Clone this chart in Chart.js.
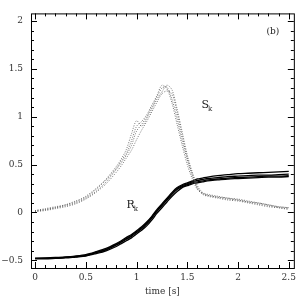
<!DOCTYPE html>
<html>
<head>
<meta charset="utf-8">
<script src="https://cdn.jsdelivr.net/npm/chart.js@4.4.0/dist/chart.umd.min.js"></script>
<style>
    html, body { margin: 0; padding: 0; background: #fff; }
    #wrap { width: 300px; height: 300px; }
</style>
</head>
<body>
<div id="wrap"><canvas id="chart" width="300" height="300"></canvas></div>
<script>
// time samples [s]
const time = [0, 0.1, 0.2, 0.3, 0.4, 0.5, 0.6, 0.7, 0.8, 0.85, 0.9, 0.95, 1.0, 1.05, 1.1, 1.15, 1.2, 1.25, 1.3, 1.35,
    1.4, 1.45, 1.5, 1.55, 1.6, 1.65, 1.7, 1.8, 1.9, 2.0, 2.1, 2.2, 2.3, 2.4, 2.5];

// S_k members (dotted)
const s1 = [0.01, 0.03, 0.05, 0.07, 0.10, 0.15, 0.22, 0.32, 0.45, 0.52, 0.60, 0.70, 0.85, 0.92, 1.00, 1.10, 1.20, 1.30, 1.31, 1.18,
    0.98, 0.75, 0.55, 0.38, 0.26, 0.20, 0.18, 0.16, 0.14, 0.13, 0.11, 0.09, 0.07, 0.05, 0.04];
const s2 = [0.02, 0.04, 0.06, 0.08, 0.11, 0.17, 0.25, 0.35, 0.48, 0.56, 0.66, 0.82, 0.96, 0.90, 0.98, 1.08, 1.18, 1.26, 1.33, 1.28,
    1.08, 0.84, 0.60, 0.42, 0.28, 0.21, 0.19, 0.17, 0.15, 0.14, 0.12, 0.10, 0.08, 0.06, 0.05];
const s3 = [0.01, 0.02, 0.04, 0.06, 0.09, 0.14, 0.21, 0.30, 0.42, 0.49, 0.57, 0.65, 0.76, 0.86, 0.95, 1.05, 1.15, 1.24, 1.27, 1.24,
    1.04, 0.80, 0.57, 0.40, 0.25, 0.19, 0.17, 0.15, 0.13, 0.12, 0.10, 0.08, 0.06, 0.05, 0.03];
const s4 = [0.02, 0.03, 0.05, 0.08, 0.12, 0.16, 0.24, 0.34, 0.46, 0.54, 0.62, 0.75, 0.90, 0.95, 1.02, 1.12, 1.22, 1.33, 1.29, 1.14,
    0.92, 0.70, 0.50, 0.35, 0.24, 0.20, 0.18, 0.16, 0.15, 0.13, 0.11, 0.10, 0.08, 0.06, 0.05];

// R_k members (solid)
const r1 = [-0.48, -0.48, -0.475, -0.47, -0.46, -0.45, -0.42, -0.39, -0.34, -0.31, -0.28, -0.25, -0.21, -0.17, -0.12, -0.06, 0.01, 0.07,
    0.13, 0.19, 0.24, 0.27, 0.29, 0.31, 0.32, 0.33, 0.34, 0.35, 0.36, 0.365, 0.37, 0.375, 0.38, 0.38, 0.385];
const r2 = [-0.48, -0.475, -0.47, -0.465, -0.455, -0.44, -0.41, -0.375, -0.325, -0.295, -0.26, -0.23, -0.19, -0.15, -0.10, -0.04, 0.03, 0.09,
    0.15, 0.21, 0.26, 0.29, 0.31, 0.33, 0.35, 0.36, 0.37, 0.385, 0.395, 0.405, 0.41, 0.415, 0.42, 0.425, 0.43];
const r3 = [-0.485, -0.485, -0.48, -0.475, -0.465, -0.455, -0.43, -0.40, -0.355, -0.325, -0.295, -0.265, -0.225, -0.185, -0.14, -0.08, -0.01, 0.05,
    0.11, 0.17, 0.22, 0.26, 0.28, 0.30, 0.31, 0.32, 0.33, 0.34, 0.35, 0.355, 0.36, 0.365, 0.37, 0.37, 0.375];
const r4 = [-0.48, -0.48, -0.475, -0.47, -0.46, -0.447, -0.418, -0.385, -0.335, -0.303, -0.272, -0.24, -0.2, -0.16, -0.11, -0.05, 0.02, 0.08,
    0.14, 0.20, 0.25, 0.28, 0.30, 0.32, 0.335, 0.345, 0.355, 0.365, 0.375, 0.38, 0.385, 0.39, 0.39, 0.395, 0.40];

// axes
const xRange = [-0.04, 2.55];
const yRange = [-0.58, 2.08];
const xTickLabels = [0, 0.5, 1, 1.5, 2, 2.5];
const yTickLabels = [-0.5, 0, 0.5, 1, 1.5, 2];
const minorStep = 0.1;
const xTitle = 'time [s]';
const panelTag = '(b)';

const font = { family: '"DejaVu Serif", "Liberation Serif", serif', size: 9 };

function pts(ys) {
    return ys.map((y, i) => ({ x: time[i], y: y }));
}

// minor tick values every 0.1 inside the range
function minorTicks(range) {
    const out = [];
    for (let k = Math.ceil(range[0] / minorStep - 1e-9); k * minorStep <= range[1] + 1e-9; k++) {
        out.push({ value: Math.round(k * minorStep * 10) / 10 });
    }
    return out;
}

function labelFor(list, v) {
    const hit = list.find(t => Math.abs(t - v) < 1e-6);
    if (hit === undefined) return '';
    return String(hit).replace('-', '\u2212');
}

// box, inward ticks and text labels
const framePlugin = {
    id: 'frame',
    afterDraw(chart) {
        const ctx = chart.ctx;
        const a = chart.chartArea;
        const xs = chart.scales.x;
        const ys = chart.scales.y;
        ctx.save();
        ctx.strokeStyle = '#000';
        ctx.lineWidth = 1;
        ctx.strokeRect(a.left + 0.5, a.top + 0.5, a.right - a.left, a.bottom - a.top);

        ctx.beginPath();
        xs.ticks.forEach(t => {
            const px = Math.round(xs.getPixelForValue(t.value)) + 0.5;
            const len = labelFor(xTickLabels, t.value) ? 6 : 3;
            ctx.moveTo(px, a.bottom);
            ctx.lineTo(px, a.bottom - len);
            ctx.moveTo(px, a.top);
            ctx.lineTo(px, a.top + len);
        });
        ys.ticks.forEach(t => {
            const py = Math.round(ys.getPixelForValue(t.value)) + 0.5;
            const len = labelFor(yTickLabels, t.value) ? 6 : 3;
            ctx.moveTo(a.left, py);
            ctx.lineTo(a.left + len, py);
            ctx.moveTo(a.right, py);
            ctx.lineTo(a.right - len, py);
        });
        ctx.stroke();

        ctx.fillStyle = '#222';
        ctx.textBaseline = 'middle';
        ctx.textAlign = 'left';
        ctx.font = '9px ' + font.family;
        ctx.fillText(panelTag, xs.getPixelForValue(2.28), ys.getPixelForValue(1.89));

        // curve labels with subscript
        function sub(main, s, vx, vy) {
            const px = xs.getPixelForValue(vx);
            const py = ys.getPixelForValue(vy);
            ctx.font = '11px ' + font.family;
            ctx.fillText(main, px, py);
            const w = ctx.measureText(main).width;
            ctx.font = '7px ' + font.family;
            ctx.fillText(s, px + w - 1, py + 4);
        }
        sub('S', 'k', 1.64, 1.12);
        sub('R', 'k', 0.9, 0.08);
        ctx.restore();
    }
};

const sStyle = { borderColor: '#555', borderWidth: 0.8, borderDash: [1, 1.5], pointRadius: 0, fill: false, tension: 0.3 };
const rStyle = { borderColor: '#000', borderWidth: 1.3, pointRadius: 0, fill: false, tension: 0.3 };

new Chart(document.getElementById('chart'), {
    type: 'line',
    data: {
        datasets: [
            Object.assign({ label: 'S1', data: pts(s1) }, sStyle),
            Object.assign({ label: 'S2', data: pts(s2) }, sStyle),
            Object.assign({ label: 'S3', data: pts(s3) }, sStyle),
            Object.assign({ label: 'S4', data: pts(s4) }, sStyle),
            Object.assign({ label: 'R1', data: pts(r1) }, rStyle),
            Object.assign({ label: 'R2', data: pts(r2) }, rStyle),
            Object.assign({ label: 'R3', data: pts(r3) }, rStyle),
            Object.assign({ label: 'R4', data: pts(r4) }, rStyle)
        ]
    },
    options: {
        responsive: false,
        animation: false,
        layout: { padding: { top: 5, right: 4, left: 0, bottom: 0 } },
        plugins: { legend: { display: false }, tooltip: { enabled: false } },
        scales: {
            x: {
                type: 'linear',
                min: xRange[0],
                max: xRange[1],
                afterBuildTicks(scale) { scale.ticks = minorTicks(xRange); },
                afterFit(scale) { scale.height = 32; },
                grid: { display: false, drawTicks: false },
                border: { display: false },
                ticks: {
                    autoSkip: false,
                    maxRotation: 0,
                    padding: 4,
                    color: '#333',
                    font: font,
                    callback: v => labelFor(xTickLabels, v)
                },
                title: { display: true, text: xTitle, color: '#333', font: font, padding: { top: 0, bottom: 3 } }
            },
            y: {
                type: 'linear',
                min: yRange[0],
                max: yRange[1],
                afterBuildTicks(scale) { scale.ticks = minorTicks(yRange); },
                afterFit(scale) { scale.width = 31; },
                grid: { display: false, drawTicks: false },
                border: { display: false },
                ticks: {
                    autoSkip: false,
                    padding: 8,
                    color: '#333',
                    font: font,
                    callback: v => labelFor(yTickLabels, v)
                }
            }
        }
    },
    plugins: [framePlugin]
});
</script>
</body>
</html>
